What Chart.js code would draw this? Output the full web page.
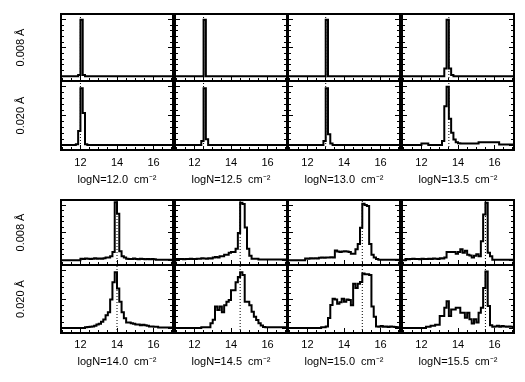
<!DOCTYPE html>
<html><head><meta charset="utf-8">
<script src="https://cdn.jsdelivr.net/npm/chart.js@4"></script>
<style>
html,body{margin:0;padding:0;background:#fff;}
body{width:525px;height:382px;position:relative;overflow:hidden;}
canvas{position:absolute;}
</style>
</head><body>
<script>
// ---------- data ----------
const trueLogN = [12.0, 12.5, 13.0, 13.5, 14.0, 14.5, 15.0, 15.5];
const panelLabels = ['logN=12.0  cm⁻²','logN=12.5  cm⁻²','logN=13.0  cm⁻²','logN=13.5  cm⁻²',
                     'logN=14.0  cm⁻²','logN=14.5  cm⁻²','logN=15.0  cm⁻²','logN=15.5  cm⁻²'];
const noiseLabels = ['0.008 Å', '0.020 Å'];
const xTickLabels = [12, 14, 16];
const xMinorTicks = [11, 11.5, 12, 12.5, 13, 13.5, 14, 14.5, 15, 15.5, 16, 16.5, 17];
const yMajorTicks = [0, 1, 2];
const yMinorTicks = [0, 0.2, 0.4, 0.6, 0.8, 1.0, 1.2, 1.4, 1.6, 1.8, 2.0, 2.2];
const BIN_START = 11.0, BIN_WIDTH = 0.125;
const X_MIN = 10.9375, X_MAX = 17.0625;
const Y_MIN = -0.17, Y_MAX = 2.2;

const h120_008 = [0,0,0,0,0,0,0,0.04, 2.0,0.04,0,0,0,0,0,0, 0,0,0,0,0,0,0,0, 0,0,0,0,0,0,0,0, 0,0,0,0,0,0,0,0, 0,0,0,0,0,0,0,0];
const h120_020 = [0,0,0,0,0,0,0.03,0.48, 1.95,1.1,0.03,0,0,0,0,0, 0,0,0,0,0,0,0,0, 0,0,0,0,0,0,0,0, 0,0,0,0,0,0,0,0, 0,0,0,0,0,0,0,0];
const h125_008 = [0,0,0,0,0,0,0,0, 0,0,0,0,2.0,0,0,0, 0,0,0,0,0,0,0,0, 0,0,0,0,0,0,0,0, 0,0,0,0,0,0,0,0, 0,0,0,0,0,0,0,0];
const h125_020 = [0,0,0,0,0,0,0,0, 0,0,0,0.14,1.95,0.2,0,0, 0,0,0,0,0,0,0,0, 0,0,0,0,0,0,0,0, 0,0,0,0,0,0,0,0, 0,0,0,0,0,0,0,0];
const h130_008 = [0,0,0,0,0,0,0,0, 0,0,0,0,0,0,0,0, 2.0,0,0,0,0,0,0,0, 0,0,0,0,0,0,0,0, 0,0,0,0,0,0,0,0, 0,0,0,0,0,0,0,0];
const h130_020 = [0,0,0,0,0,0,0,0, 0,0,0,0,0,0,0,0.14, 1.95,0.37,0.05,0,0,0,0,0, 0,0,0,0,0,0,0,0, 0,0,0,0,0,0,0,0, 0,0,0,0,0,0,0,0];
const h135_008 = [0,0,0,0,0,0,0,0, 0,0,0,0,0,0,0,0, 0,0,0.27,2.0,0.27,0.04,0,0, 0,0,0,0,0,0,0,0, 0,0,0,0,0,0,0,0, 0,0,0,0,0,0,0,0];
const h135_020 = [0,0,0,0,0,0,0,0, 0.05,0.05,0.05,0,0,0,0,0, 0,0.14,1.33,2.0,0.9,0.42,0.19,0.1,
                  0.06,0.05,0.05,0.05,0.05,0.05,0.05,0.05, 0.05,0.1,0.1,0.1,0.1,0.1,0.1,0.1, 0.1,0.1,0.02,0.02,0.02,0.02,0.02,0.02];
const h140_008 = [0,0,0,0,0,0,0,0, 0.06,0.05,0.07,0.06,0.05,0.06,0.08,0.06, 0.07,0.06,0.08,0.1,0.1,0.15,0.3,2.12,
                  1.7,0.33,0.15,0.1,0.06,0.05,0.05,0.07, 0.05,0.04,0.06,0.05,0.04,0.05,0.04,0.05, 0.04,0.02,0.02,0.02,0.02,0.02,0.02,0.02];
const h140_020 = [0,0,0,0,0,0,0,0, 0,0,0.03,0.04,0.05,0.06,0.08,0.13, 0.15,0.22,0.3,0.45,0.55,1.0,1.6,1.95,
                  1.38,0.92,0.55,0.34,0.2,0.2,0.17,0.15, 0.13,0.13,0.1,0.12,0.1,0.08,0.06,0.06, 0.05,0.05,0.02,0.02,0.02,0.02,0.02,0.02];
const h145_008 = [0.05,0.05,0.05,0.04,0.05,0.05,0.06,0.05, 0.05,0.06,0.06,0.08,0.07,0.06,0.08,0.07, 0.1,0.12,0.1,0.15,0.15,0.2,0.2,0.28,
                  0.3,0.3,0.42,1.0,2.1,2.05,1.2,0.42, 0.17,0.06,0.06,0.06,0.03,0.03,0.03,0.03, 0.03,0.03,0.03,0.03,0.03,0.03,0.03,0.03];
const h145_020 = [0,0,0,0,0,0,0,0, 0,0,0,0.03,0.03,0.03,0.03,0.17, 0.29,0.75,0.63,0.75,0.55,0.8,0.92,0.98,
                  1.32,1.32,1.6,1.78,1.95,1.85,0.92,0.92, 0.8,0.57,0.4,0.28,0.17,0.09,0.04,0.03, 0.03,0.03,0.03,0.03,0.03,0.03,0.03,0.03];
const h150_008 = [0,0,0,0,0,0,0,0.07, 0.06,0.08,0.07,0.08,0.07,0.09,0.1,0.09, 0.1,0.1,0.11,0.1,0.36,0.32,0.3,0.32,
                  0.33,0.32,0.3,0.24,0.24,0.4,0.6,1.19, 2.06,2.02,1.98,0.6,0.2,0.1,0.05,0.02, 0.02,0.02,0.02,0.02,0.02,0.02,0.02,0.02];
const h150_020 = [0,0,0,0,0,0,0,0, 0,0,0,0,0,0,0.03,0.03, 0.06,0.35,0.81,1.02,1.0,0.85,0.9,1.02,
                  0.92,1.0,0.98,0.8,1.55,1.4,1.55,1.61, 1.9,1.88,1.88,1.85,0.75,0.4,0.06,0.05, 0.07,0.05,0.06,0.04,0.06,0.05,0.04,0.03];
const h155_008 = [0,0.05,0.04,0.05,0.06,0.05,0.05,0.04, 0.06,0.05,0.05,0.06,0.05,0.07,0.06,0.05, 0.08,0.07,0.1,0.3,0.3,0.3,0.3,0.24,
                  0.3,0.4,0.28,0.35,0.2,0.18,0.1,0.17, 0.22,0.15,0.7,1.67,2.1,0.28,0.15,0.02, 0.02,0.02,0.02,0.02,0.02,0.02,0.02,0.02];
const h155_020 = [0,0,0,0,0,0,0,0, 0,0,0.05,0.05,0.08,0.08,0.12,0.12, 0.42,0.42,0.71,0.94,0.42,0.65,0.65,0.71,
                  0.71,0.54,0.54,0.36,0.54,0.31,0.16,0.31, 0.2,0.54,0.71,1.4,1.97,0.77,0.1,0.05, 0.06,0.08,0.05,0.07,0.06,0.05,0.06,0.05];

const histograms = [
  [h120_008, h120_020], [h125_008, h125_020], [h130_008, h130_020], [h135_008, h135_020],
  [h140_008, h140_020], [h145_008, h145_020], [h150_008, h150_020], [h155_008, h155_020]
];

// ---------- layout ----------
const colLeft = [61, 175, 288, 402];
const colW = 112;
const groups = [
  { rows: [[14, 81], [81, 150]], tickPad: 6.4, titlePad: 3.4 },
  { rows: [[200, 265], [265, 333]], tickPad: 5.4, titlePad: 4.4 }
];
const LAB_H = 40;
const M = 3;

Chart.defaults.font.family = "'Liberation Sans', Arial, sans-serif";
Chart.defaults.font.size = 11;
Chart.defaults.color = '#000';

function setTicks(arr) { return s => { s.ticks = arr.map(v => ({ value: v })); }; }
function zeroSize(s) { if (s.isHorizontal()) s.height = 0; else s.width = 0; }

function tickAxis(pos, weight, arr, len, withBorder) {
  const vertical = (pos === 'left' || pos === 'right');
  return {
    type: 'linear', position: pos, weight: weight, bounds: 'data',
    min: vertical ? Y_MIN : X_MIN, max: vertical ? Y_MAX : X_MAX,
    afterBuildTicks: setTicks(arr), afterFit: zeroSize,
    grid: { display: true, drawOnChartArea: false, drawTicks: true, tickLength: -len,
            color: '#000', tickColor: '#000', tickWidth: 1, lineWidth: 1 },
    border: { display: withBorder, color: '#000', width: 2 },
    ticks: { display: false }
  };
}

function histPoints(vals) {
  const pts = [{ x: X_MIN, y: 0 }];
  vals.forEach((v, i) => pts.push({ x: BIN_START + i * BIN_WIDTH, y: v }));
  pts.push({ x: BIN_START + vals.length * BIN_WIDTH, y: 0 });
  pts.push({ x: X_MAX, y: 0 });
  return pts;
}

function makePanel(k, r) {
  const g = Math.floor(k / 4), c = k % 4;
  const grp = groups[g];
  const [top, bottom] = grp.rows[r];
  const isLeft = (c === 0), isBottom = (r === 1);
  const cx = isLeft ? 0 : colLeft[c] - M;
  const padL = isLeft ? 0 : M;
  const cy = top - M;
  const cw = colLeft[c] + colW + M - cx;
  const ch = (bottom - top) + M + (isBottom ? LAB_H : M);

  const cv = document.createElement('canvas');
  cv.width = cw; cv.height = ch;
  cv.style.left = cx + 'px'; cv.style.top = cy + 'px';
  cv.style.width = cw + 'px'; cv.style.height = ch + 'px';
  document.body.appendChild(cv);

  const scales = {
    x: tickAxis('bottom', 1, xTickLabels, 5, true),
    xMin: tickAxis('bottom', 0, xMinorTicks, 3, false),
    xTop: { type: 'linear', position: 'top', weight: 0, min: X_MIN, max: X_MAX, bounds: 'data',
            afterFit: zeroSize, grid: { display: false, drawTicks: false },
            border: { display: true, color: '#000', width: 2 }, ticks: { display: false } },
    y: tickAxis('left', 1, yMajorTicks, 5, true),
    yMin: tickAxis('left', 0, yMinorTicks, 3, false),
    yR: tickAxis('right', 1, yMajorTicks, 5, true),
    yRMin: tickAxis('right', 0, yMinorTicks, 3, false)
  };
  if (isBottom) {
    scales.xLab = {
      type: 'linear', position: 'bottom', weight: 2, min: X_MIN, max: X_MAX, bounds: 'data',
      afterBuildTicks: setTicks(xTickLabels),
      afterFit: s => { s.height = LAB_H; },
      grid: { display: false, drawTicks: false }, border: { display: false },
      ticks: { display: true, autoSkip: false, maxRotation: 0, padding: grp.tickPad, color: '#000',
               font: { size: 11 } },
      title: { display: true, text: panelLabels[k], color: '#000', font: { size: 11 },
               padding: { top: 0, bottom: grp.titlePad } }
    };
  }
  if (isLeft) {
    scales.yLab = {
      type: 'linear', position: 'left', weight: 2, min: Y_MIN, max: Y_MAX, bounds: 'data',
      afterFit: s => { s.width = colLeft[0]; },
      grid: { display: false, drawTicks: false }, border: { display: false },
      ticks: { display: false },
      title: { display: true, text: noiseLabels[r], color: '#000', font: { size: 11 },
               padding: { top: 14.1, bottom: 0 } }
    };
  }

  new Chart(cv, {
    type: 'line',
    data: {
      datasets: [
        { data: histPoints(histograms[k][r]), xAxisID: 'x', yAxisID: 'y',
          borderColor: '#000', borderWidth: 2, pointRadius: 0, stepped: true, fill: false,
          borderJoinStyle: 'miter', tension: 0 },
        { data: [{ x: trueLogN[k], y: Y_MIN }, { x: trueLogN[k], y: Y_MAX }], xAxisID: 'x', yAxisID: 'y',
          borderColor: '#000', borderWidth: 1, borderDash: [1, 2], pointRadius: 0, fill: false }
      ]
    },
    options: {
      responsive: false, animation: false, events: [],
      layout: { padding: { left: padL, right: M, top: M, bottom: isBottom ? 0 : M } },
      plugins: { legend: { display: false }, tooltip: { enabled: false }, title: { display: false } },
      scales: scales
    }
  });
}

for (let k = 0; k < 8; k++) { makePanel(k, 0); makePanel(k, 1); }
</script>
</body></html>
